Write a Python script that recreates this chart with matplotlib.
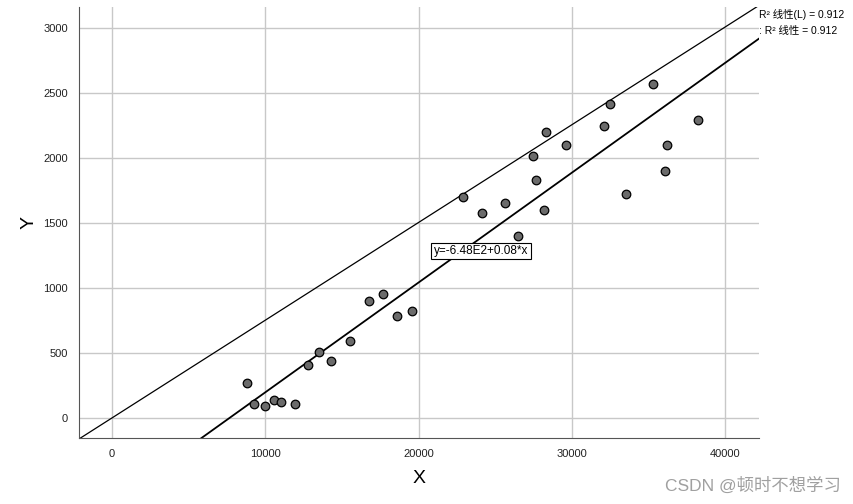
import numpy as np
import matplotlib.pyplot as plt

plt.rcParams['font.family'] = ['Liberation Sans', 'Noto Sans CJK SC', 'DejaVu Sans']

x_vals = [8800, 9260, 9980, 10560, 11020, 11960, 12790, 13500, 14300, 15540,
          16780, 17690, 18600, 19560, 22900, 24170, 25640, 26510, 27460, 27680,
          28200, 28330, 29630, 32130, 32510, 33540, 35270, 36060, 36230, 38220]
y_vals = [268, 108, 95, 136, 126, 110, 408, 506, 437, 592,
          900, 952, 781, 823, 1702, 1577, 1654, 1402, 2017, 1830,
          1600, 2200, 2104, 2248, 2418, 1720, 2570, 1900, 2100, 2296]

# fitted lines
fit_a, fit_b = -648.0, 0.0845      # y = a + b*x
origin_b = 0.0752                  # line through origin
eq_label = 'y=-6.48E2+0.08*x'
legend_rows = ['R² 线性(L) = 0.912', ': R² 线性 = 0.912']

fig = plt.figure(figsize=(8.54, 5.04), dpi=100)
ax = fig.add_axes([0.0925, 0.131, 0.796, 0.855])

ax.set_xlim(-2150, 42200)
ax.set_ylim(-154, 3162)
ax.set_xticks([0, 10000, 20000, 30000, 40000])
ax.set_yticks([0, 500, 1000, 1500, 2000, 2500, 3000])
ax.grid(True, color='#c8c8c8', linewidth=1)
ax.set_axisbelow(True)
for s in ['top', 'right']:
    ax.spines[s].set_visible(False)
for s in ['left', 'bottom']:
    ax.spines[s].set_color('#555555')
ax.tick_params(length=0, labelsize=8, colors='#222222', pad=8)

xs = np.array(ax.get_xlim())
ax.plot(xs, origin_b * xs, color='black', linewidth=0.9)
ax.plot(xs, fit_a + fit_b * xs, color='black', linewidth=1.3)

ax.scatter(x_vals, y_vals, s=38, facecolor='#6b6b6b', edgecolor='black',
           linewidth=0.9, zorder=3)

ax.text(21000, 1285, eq_label, fontsize=8.5, va='center', ha='left',
        bbox=dict(boxstyle='square,pad=0.2', facecolor='white', edgecolor='black', linewidth=0.8),
        zorder=4)

ax.set_xlabel('X', fontsize=14, labelpad=8)
ax.set_ylabel('Y', fontsize=14, labelpad=4)

fig.text(0.889, 1 - 15 / 504, legend_rows[0], fontsize=7.5, va='center', ha='left')
fig.text(0.889, 1 - 31 / 504, legend_rows[1], fontsize=7.5, va='center', ha='left')

fig.text(0.985, 0.037, 'CSDN @顿时不想学习', fontsize=12.5, color='#a0a0a0', ha='right', va='center')

fig.savefig('out.png', dpi=100)
